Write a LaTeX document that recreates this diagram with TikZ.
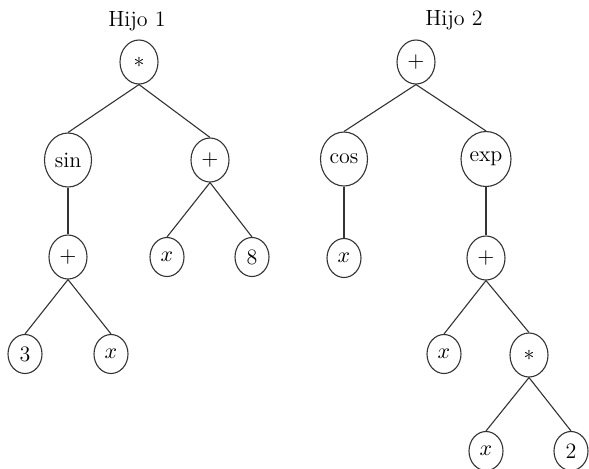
\documentclass[tikz,border=0pt]{standalone}
\usetikzlibrary{shapes.geometric}
\begin{document}
\begin{tikzpicture}[x=0.5pt,y=-0.5pt,
  every node/.style={font=\fontsize{11}{13}\selectfont},
  nd/.style={draw=black!80, ellipse, inner sep=0pt, line width=0.55pt},
  leaf/.style={nd, minimum width=17pt, minimum height=19.5pt},
  op/.style={nd, minimum width=19pt, minimum height=22pt},
  fn/.style={nd, minimum width=23.5pt, minimum height=27pt},
  edge/.style={draw=black!80, line width=0.55pt}]
\useasboundingbox (0,0) rectangle (589,468);
% Tree 1
\node (t1) at (137,21) {Hijo 1};
\node[op] (a) at (139,62) {$*$};
\node[fn] (b) at (68,160) {sin};
\node[op] (c) at (210,160) {$+$};
\node[op] (d) at (68,257) {$+$};
\node[leaf] (e) at (167,257) {$x$};
\node[leaf] (f) at (252,257) {8};
\node[leaf] (g) at (25,354) {3};
\node[leaf] (h) at (111,354) {$x$};
\draw[edge] (a.south) -- (b.north);
\draw[edge] (a.south) -- (c.north);
\draw[edge] (b.south) -- (d.north);
\draw[edge] (c.south) -- (e.north);
\draw[edge] (c.south) -- (f.north);
\draw[edge] (d.south) -- (g.north);
\draw[edge] (d.south) -- (h.north);
% Tree 2
\node (t2) at (454,20) {Hijo 2};
\node[op] (p) at (416,62) {$+$};
\node[fn] (q) at (344,159) {cos};
\node[fn, minimum width=25pt, minimum height=27.5pt] (r) at (486,159) {exp};
\node[leaf] (s) at (344,258) {$x$};
\node[op] (u) at (486,258) {$+$};
\node[leaf] (v) at (444,354) {$x$};
\node[op] (w) at (529,355) {$*$};
\node[leaf] (y1) at (486,451) {$x$};
\node[leaf] (z) at (571,451) {2};
\draw[edge] (p.south) -- (q.north);
\draw[edge] (p.south) -- (r.north);
\draw[edge] (q.south) -- (s.north);
\draw[edge] (r.south) -- (u.north);
\draw[edge] (u.south) -- (v.north);
\draw[edge] (u.south) -- (w.north);
\draw[edge] (w.south) -- (y1.north);
\draw[edge] (w.south) -- (z.north);
\end{tikzpicture}
\end{document}
